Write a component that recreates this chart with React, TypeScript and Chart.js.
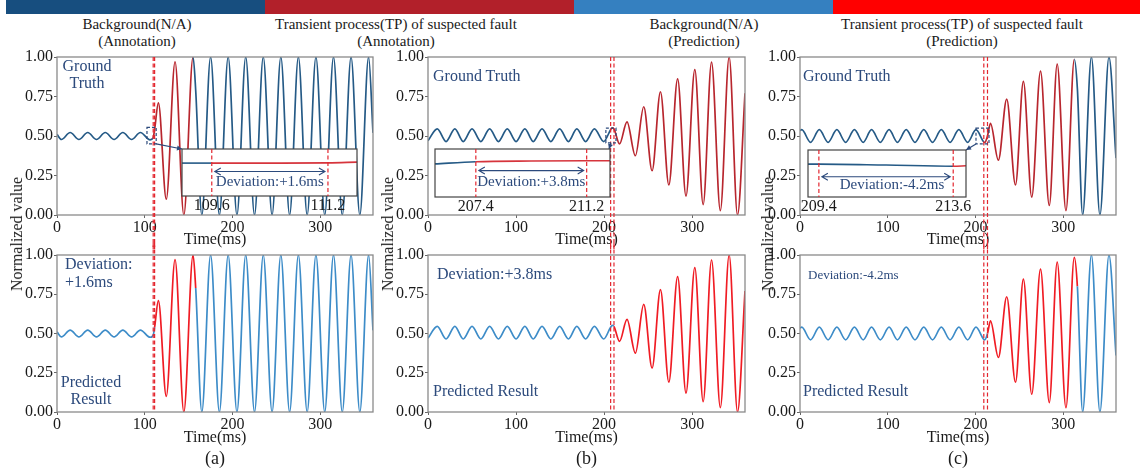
import React, { useEffect, useRef } from "react";
import { Chart, registerables } from "chart.js";

Chart.register(...registerables);

const FONT = "'Liberation Serif', 'Times New Roman', Times, serif";

// ---------------- data ----------------
const xTickValues = [0, 100, 200, 300];
const yTickValues = [0, 0.25, 0.5, 0.75, 1.0];
const timeRange = [0, 360];

const topTitles = ["Background(N/A)", "Transient process(TP) of suspected fault", "Background(N/A)", "Transient process(TP) of suspected fault"];
const topSubtitles = ["(Annotation)", "(Annotation)", "(Prediction)", "(Prediction)"];
const panelLetters = ["(a)", "(b)", "(c)"];

// Panel (a): extrema / key points of the waveform (time ms, normalized value)
const waveA_t = [0, 5, 15, 25, 35, 45, 55, 65, 75, 85, 95, 106, 109.6, 111.2, 115.5, 124.5, 134.5, 144.5, 155, 158,
  165, 175, 185, 195, 205, 215, 225, 235, 245, 255, 265, 275, 285, 295, 305, 315, 325, 335, 345, 355, 360];
const waveA_v = [0.51, 0.478, 0.522, 0.478, 0.522, 0.478, 0.522, 0.478, 0.522, 0.478, 0.522, 0.476, 0.49, 0.54, 0.71, 0.10, 0.97, 0.0, 1.0, 0.79,
  0.0, 1.0, 0.0, 1.0, 0.0, 1.0, 0.0, 1.0, 0.0, 1.0, 0.0, 1.0, 0.0, 1.0, 0.0, 1.0, 0.0, 1.0, 0.0, 1.0, 0.52];
const annotTP_A = [109.6, 155];
const predTP_A = [111.2, 158];

// Panel (b)
const waveB_t = [0, 10.5, 20.5, 30.5, 40, 50, 60, 70, 80, 90, 100, 110, 119.5, 129.5, 139.5, 149.5, 159.5, 169, 179, 189, 199.5,
  207.4, 209.3, 211.2, 217.5, 226, 235.5, 245, 254.5, 264, 273.5, 283.5, 293, 303, 312.5, 322, 332, 342, 351.5, 360];
const waveB_v = [0.47, 0.545, 0.465, 0.545, 0.465, 0.545, 0.465, 0.545, 0.465, 0.545, 0.465, 0.545, 0.465, 0.545, 0.465, 0.545, 0.465, 0.545, 0.465, 0.545, 0.465,
  0.54, 0.552, 0.545, 0.45, 0.59, 0.375, 0.685, 0.28, 0.78, 0.19, 0.862, 0.12, 0.92, 0.066, 0.968, 0.028, 1.0, 0.0, 0.77];
const annotTP_B = [207.4, 360];
const predTP_B = [211.2, 360];

// Panel (c)
const waveC_t = [0, 2, 12, 22, 32, 42, 52, 62, 72, 81.5, 91.5, 101.5, 111, 121, 131, 141, 151, 161, 171, 181, 191, 200.5,
  209.4, 210.5, 213.6, 217, 226, 235.5, 245.5, 254.5, 264, 274, 284, 293, 303, 312.5, 316, 322, 332, 341.7, 352, 360];
const waveC_v = [0.535, 0.54, 0.46, 0.54, 0.46, 0.54, 0.46, 0.54, 0.46, 0.54, 0.46, 0.54, 0.46, 0.54, 0.46, 0.54, 0.46, 0.54, 0.46, 0.54, 0.46, 0.54,
  0.462, 0.46, 0.50, 0.58, 0.347, 0.734, 0.19, 0.846, 0.113, 0.91, 0.06, 0.955, 0.027, 0.985, 0.80, 0.0, 1.0, 0.0, 1.0, 0.36];
const annotTP_C = [209.4, 312.5];
const predTP_C = [213.6, 316];

// Insets (zoomed views around the TP start), relative level 0..1
const insetA_range = [109.19, 111.6];
const insetA_ticks = [109.6, 111.2];
const insetA_t = [109.19, 109.6, 110.4, 111.2, 111.6];
const insetA_v = [0.70, 0.70, 0.70, 0.705, 0.72];
const insetA_label = "Deviation:+1.6ms";

const insetB_range = [206.0, 212.0];
const insetB_ticks = [207.4, 211.2];
const insetB_t = [206.0, 207.4, 209.3, 211.2, 212.0];
const insetB_v = [0.69, 0.735, 0.75, 0.755, 0.755];
const insetB_label = "Deviation:+3.8ms";

const insetC_range = [209.06, 214.0];
const insetC_ticks = [209.4, 213.6];
const insetC_t = [209.06, 209.4, 211.5, 213.6, 214.0];
const insetC_v = [0.70, 0.70, 0.68, 0.655, 0.665];
const insetC_label = "Deviation:-4.2ms";

// zoom markers (data coords)
const zoomA = { t: [102.5, 113], v: [0.45, 0.555] };
const zoomB = { t: [202, 213.5], v: [0.456, 0.55] };
const zoomC = { t: [200.5, 215.3], v: [0.45, 0.55] };

// ---------------- style ----------------
const GT_BLUE = "#255a86";
const GT_RED = "#b8262e";
const PR_BLUE = "#3d8cc8";
const PR_RED = "#f01c24";
const INSET_RED = "#d6343c";
const NAVY = "#2c4a7c";
const FRAME = "#8a8a8a";
const MARK = "#e3262f";
const TXT = "#1a1a1a";
const BAR_COLORS = ["#174e7f", "#b2202a", "#3580c0", "#ff0000"];

function arrowHead(ctx: CanvasRenderingContext2D, x: number, y: number, ang: number, len: number, half: number) {
  ctx.beginPath();
  ctx.moveTo(x, y);
  ctx.lineTo(x - len * Math.cos(ang) + half * Math.sin(ang), y - len * Math.sin(ang) - half * Math.cos(ang));
  ctx.lineTo(x - len * Math.cos(ang) - half * Math.sin(ang), y - len * Math.sin(ang) + half * Math.cos(ang));
  ctx.closePath();
  ctx.fill();
}

function panelDeco(o: any) {
  return {
    id: "panelDeco",
    afterDatasetsDraw(chart: any) {
      const { ctx, chartArea: a } = chart;
      const xs = chart.scales.x;
      const ys = chart.scales.y;
      ctx.save();
      ctx.setLineDash([]);
      ctx.lineWidth = 1.3;
      ctx.strokeStyle = FRAME;
      ctx.strokeRect(a.left, a.top, a.right - a.left, a.bottom - a.top);
      // spanning dashed markers
      ctx.lineWidth = 1.2;
      ctx.strokeStyle = MARK;
      ctx.setLineDash([4, 2.5]);
      const y0 = o.row === "top" ? a.top : 0;
      const y1 = o.row === "top" ? chart.height : a.bottom;
      for (const t of o.marks) {
        const px = xs.getPixelForValue(t);
        ctx.beginPath();
        ctx.moveTo(px, y0);
        ctx.lineTo(px, y1);
        ctx.stroke();
      }
      if (o.zoom) {
        const z = o.zoom;
        const xa = xs.getPixelForValue(z.t[0]);
        const xb = xs.getPixelForValue(z.t[1]);
        const ya = ys.getPixelForValue(z.v[1]);
        const yb = ys.getPixelForValue(z.v[0]);
        ctx.strokeStyle = NAVY;
        ctx.fillStyle = NAVY;
        ctx.lineWidth = 1.2;
        ctx.setLineDash([3, 2]);
        ctx.strokeRect(xa, ya, xb - xa, yb - ya);
        ctx.setLineDash([]);
        const sx = o.zoomFrom === "br" ? xb : o.zoomFrom === "bl" ? xa : (xa + xb) / 2;
        const sy = yb;
        const ex = o.zoomTo[0] - o.cl;
        const ey = o.zoomTo[1] - o.ct;
        ctx.beginPath();
        ctx.moveTo(sx, sy);
        ctx.lineTo(ex, ey);
        ctx.stroke();
        arrowHead(ctx, ex, ey, Math.atan2(ey - sy, ex - sx), 5, 2.5);
      }
      ctx.restore();
    },
  };
}

function insetDeco(o: any) {
  return {
    id: "insetDeco",
    beforeDraw(chart: any) {
      const { ctx, chartArea: a } = chart;
      ctx.save();
      ctx.fillStyle = "#ffffff";
      ctx.fillRect(a.left, a.top, a.right - a.left, a.bottom - a.top);
      ctx.restore();
    },
    afterDatasetsDraw(chart: any) {
      const { ctx, chartArea: a } = chart;
      const xs = chart.scales.x;
      const ys = chart.scales.y;
      ctx.save();
      ctx.setLineDash([]);
      ctx.lineWidth = 1.2;
      ctx.strokeStyle = "#444";
      ctx.strokeRect(a.left, a.top, a.right - a.left, a.bottom - a.top);
      ctx.strokeStyle = MARK;
      ctx.setLineDash([4, 2.5]);
      const p = o.ticks.map((t: number) => xs.getPixelForValue(t));
      for (const px of p) {
        ctx.beginPath();
        ctx.moveTo(px, a.top);
        ctx.lineTo(px, a.bottom);
        ctx.stroke();
      }
      ctx.setLineDash([]);
      ctx.strokeStyle = NAVY;
      ctx.lineWidth = 1.1;
      const ay = ys.getPixelForValue(o.arrowV);
      const x1 = p[0] + 3;
      const x2 = p[1] - 3;
      ctx.beginPath();
      ctx.moveTo(x1, ay);
      ctx.lineTo(x2, ay);
      ctx.moveTo(x1 + 6, ay - 3.5);
      ctx.lineTo(x1, ay);
      ctx.lineTo(x1 + 6, ay + 3.5);
      ctx.moveTo(x2 - 6, ay - 3.5);
      ctx.lineTo(x2, ay);
      ctx.lineTo(x2 - 6, ay + 3.5);
      ctx.stroke();
      ctx.fillStyle = NAVY;
      ctx.font = `15px ${FONT}`;
      ctx.textAlign = "center";
      ctx.textBaseline = "middle";
      ctx.fillText(o.label, (p[0] + p[1]) / 2 + (o.labelDx || 0), ys.getPixelForValue(o.textV));
      ctx.restore();
    },
  };
}

function WavePanel(props: any) {
  const { rect, row, t, v, tp, blue, red, marks, zoom, zoomFrom, zoomTo } = props;
  const ref = useRef<HTMLCanvasElement>(null);
  const padT = 12;
  const padR = 14;
  const yW = 50;
  const axisH = row === "top" ? 34 : 35;
  const cl = rect.L - yW;
  const ct = rect.T - padT;
  const cw = rect.W + yW + padR;
  const ch = padT + rect.H + axisH;
  useEffect(() => {
    const tickFont = { family: FONT, size: 16 };
    const chart = new Chart(ref.current as HTMLCanvasElement, {
      type: "line",
      data: {
        datasets: [
          {
            data: t.map((x: number, i: number) => ({ x, y: v[i] })),
            borderColor: blue,
            borderWidth: 1.7,
            pointRadius: 0,
            fill: false,
            cubicInterpolationMode: "monotone",
            segment: {
              borderColor: (c: any) =>
                c.p0.parsed.x >= tp[0] - 1e-6 && c.p1.parsed.x <= tp[1] + 1e-6 ? red : blue,
            },
          } as any,
        ],
      },
      options: {
        animation: false,
        responsive: false,
        maintainAspectRatio: false,
        events: [],
        layout: { padding: { left: 0, right: padR, top: padT, bottom: 0 } },
        plugins: { legend: { display: false }, tooltip: { enabled: false } },
        scales: {
          x: {
            type: "linear",
            min: timeRange[0],
            max: timeRange[1],
            afterBuildTicks: (s: any) => {
              s.ticks = xTickValues.map((value) => ({ value }));
            },
            afterFit: (s: any) => {
              s.height = axisH;
            },
            ticks: { font: tickFont, color: TXT, padding: 0, maxRotation: 0, autoSkip: false, callback: (val: any) => String(val) },
            grid: { display: true, drawOnChartArea: false, drawTicks: true, tickLength: 3, color: "#666" },
            border: { display: false },
            title: { display: true, text: "Time(ms)", font: tickFont, color: TXT, padding: 0 },
          },
          y: {
            type: "linear",
            min: 0,
            max: 1,
            afterBuildTicks: (s: any) => {
              s.ticks = yTickValues.map((value) => ({ value }));
            },
            afterFit: (s: any) => {
              s.width = yW;
            },
            ticks: { font: tickFont, color: TXT, padding: 1, callback: (val: any) => Number(val).toFixed(2) },
            grid: { display: true, drawOnChartArea: false, drawTicks: true, tickLength: 3, color: "#666" },
            border: { display: false },
          },
        },
      } as any,
      plugins: [panelDeco({ row, marks, zoom, zoomFrom, zoomTo, cl, ct })],
    });
    return () => chart.destroy();
  }, []);
  return <canvas ref={ref} width={cw} height={ch} style={{ position: "absolute", left: cl, top: ct, width: cw, height: ch }} />;
}

function InsetPanel(props: any) {
  const { rect, range, ticks, t, v, split, label, arrowV, textV, labelDx } = props;
  const ref = useRef<HTMLCanvasElement>(null);
  const padX = 22;
  const padT = 2;
  const axisH = 24;
  const cl = rect.L - padX;
  const ct = rect.T - padT;
  const cw = rect.W + padX * 2;
  const ch = rect.H + padT + axisH;
  useEffect(() => {
    const chart = new Chart(ref.current as HTMLCanvasElement, {
      type: "line",
      data: {
        datasets: [
          {
            data: t.map((x: number, i: number) => ({ x, y: v[i] })),
            borderColor: GT_BLUE,
            borderWidth: 1.6,
            pointRadius: 0,
            fill: false,
            cubicInterpolationMode: "monotone",
            segment: { borderColor: (c: any) => (c.p0.parsed.x >= split - 1e-6 ? INSET_RED : GT_BLUE) },
          } as any,
        ],
      },
      options: {
        animation: false,
        responsive: false,
        maintainAspectRatio: false,
        events: [],
        layout: { padding: { left: padX, right: padX, top: padT, bottom: 0 } },
        plugins: { legend: { display: false }, tooltip: { enabled: false } },
        scales: {
          x: {
            type: "linear",
            min: range[0],
            max: range[1],
            afterBuildTicks: (s: any) => {
              s.ticks = ticks.map((value: number) => ({ value }));
            },
            afterFit: (s: any) => {
              s.height = axisH;
            },
            ticks: { font: { family: FONT, size: 16 }, color: TXT, padding: 0, maxRotation: 0, autoSkip: false, callback: (val: any) => Number(val).toFixed(1) },
            grid: { display: false, drawTicks: false },
            border: { display: false },
          },
          y: { type: "linear", min: 0, max: 1, display: false },
        },
      } as any,
      plugins: [insetDeco({ ticks, label, arrowV, textV, labelDx })],
    });
    return () => chart.destroy();
  }, []);
  return <canvas ref={ref} width={cw} height={ch} style={{ position: "absolute", left: cl, top: ct, width: cw, height: ch }} />;
}

function Txt(props: any) {
  const { x, y, text, size = 16, color = TXT, align = "center", rotate = false } = props;
  const tf = rotate ? "translate(-50%,-50%) rotate(-90deg)" : align === "center" ? "translate(-50%,-50%)" : "translate(0,-50%)";
  return (
    <div style={{ position: "absolute", left: x, top: y, transform: tf, fontFamily: FONT, fontSize: size, color, whiteSpace: "nowrap", lineHeight: 1 }}>
      {text}
    </div>
  );
}

const COLS = [
  { L: 57, W: 316 },
  { L: 428, W: 317 },
  { L: 800, W: 316 },
];
const TOP_ROW = { T: 57, H: 158 };
const BOT_ROW = { T: 255, H: 157 };

export default function App() {
  const bars = [
    [6, 265],
    [265, 574],
    [574, 833],
    [833, 1140],
  ];
  const titleX = [137, 396, 704, 962];
  const yTitleX = [17, 388, 768];
  const waves = [
    { t: waveA_t, v: waveA_v, gt: annotTP_A, pr: predTP_A, marks: [annotTP_A[0], predTP_A[0]] },
    { t: waveB_t, v: waveB_v, gt: annotTP_B, pr: predTP_B, marks: [annotTP_B[0], predTP_B[0]] },
    { t: waveC_t, v: waveC_v, gt: annotTP_C, pr: predTP_C, marks: [annotTP_C[0], predTP_C[0]] },
  ];
  const zooms = [
    { zoom: zoomA, from: "br", to: [182, 149] },
    { zoom: zoomB, from: "b", to: [609, 149] },
    { zoom: zoomC, from: "bl", to: [966, 150] },
  ];
  return (
    <div style={{ position: "absolute", left: 0, top: 0, width: 1146, height: 472, background: "#fff", overflow: "hidden" }}>
      {bars.map((b, i) => (
        <div key={"bar" + i} style={{ position: "absolute", left: b[0], top: 0, width: b[1] - b[0], height: 14, background: BAR_COLORS[i] }} />
      ))}
      {topTitles.map((s, i) => (
        <Txt key={"tt" + i} x={titleX[i]} y={24} text={s} size={15} />
      ))}
      {topSubtitles.map((s, i) => (
        <Txt key={"ts" + i} x={titleX[i]} y={41} text={s} size={15} />
      ))}
      {waves.map((w, i) => (
        <WavePanel
          key={"top" + i}
          rect={{ L: COLS[i].L, W: COLS[i].W, T: TOP_ROW.T, H: TOP_ROW.H }}
          row="top"
          t={w.t}
          v={w.v}
          tp={w.gt}
          blue={GT_BLUE}
          red={GT_RED}
          marks={w.marks}
          zoom={zooms[i].zoom}
          zoomFrom={zooms[i].from}
          zoomTo={zooms[i].to}
        />
      ))}
      {waves.map((w, i) => (
        <WavePanel
          key={"bot" + i}
          rect={{ L: COLS[i].L, W: COLS[i].W, T: BOT_ROW.T, H: BOT_ROW.H }}
          row="bottom"
          t={w.t}
          v={w.v}
          tp={w.pr}
          blue={PR_BLUE}
          red={PR_RED}
          marks={w.marks}
        />
      ))}
      {yTitleX.map((x, i) => (
        <Txt key={"yt" + i} x={x} y={234} text="Normalized value" size={16} rotate />
      ))}
      {panelLetters.map((s, i) => (
        <Txt key={"pl" + i} x={COLS[i].L + COLS[i].W / 2} y={458} text={s} size={18} />
      ))}
      {/* in-panel annotations */}
      <Txt x={87} y={66} text="Ground" color={NAVY} />
      <Txt x={87} y={83} text="Truth" color={NAVY} />
      <Txt x={65} y={264} text="Deviation:" color={NAVY} align="left" />
      <Txt x={65} y={282} text="+1.6ms" color={NAVY} align="left" />
      <Txt x={91} y={382} text="Predicted" color={NAVY} />
      <Txt x={91} y={399} text="Result" color={NAVY} />

      <Txt x={433} y={76} text="Ground Truth" color={NAVY} align="left" />
      <Txt x={437} y={274} text="Deviation:+3.8ms" color={NAVY} align="left" />
      <Txt x={433} y={391} text="Predicted Result" color={NAVY} align="left" />

      <Txt x={803} y={76} text="Ground Truth" color={NAVY} align="left" />
      <Txt x={808} y={274} text="Deviation:-4.2ms" color={NAVY} align="left" size={13} />
      <Txt x={803} y={391} text="Predicted Result" color={NAVY} align="left" />

      <InsetPanel rect={{ L: 182, T: 149, W: 175, H: 47 }} range={insetA_range} ticks={insetA_ticks} t={insetA_t} v={insetA_v} split={insetA_ticks[0]} label={insetA_label} arrowV={0.52} textV={0.3} />
      <InsetPanel rect={{ L: 435, T: 149, W: 175, H: 48 }} range={insetB_range} ticks={insetB_ticks} t={insetB_t} v={insetB_v} split={insetB_ticks[0]} label={insetB_label} arrowV={0.55} textV={0.31} />
      <InsetPanel rect={{ L: 808, T: 150, W: 158, H: 47 }} range={insetC_range} ticks={insetC_ticks} t={insetC_t} v={insetC_v} split={insetC_ticks[1]} label={insetC_label} arrowV={0.43} textV={0.26} labelDx={6} />
    </div>
  );
}
